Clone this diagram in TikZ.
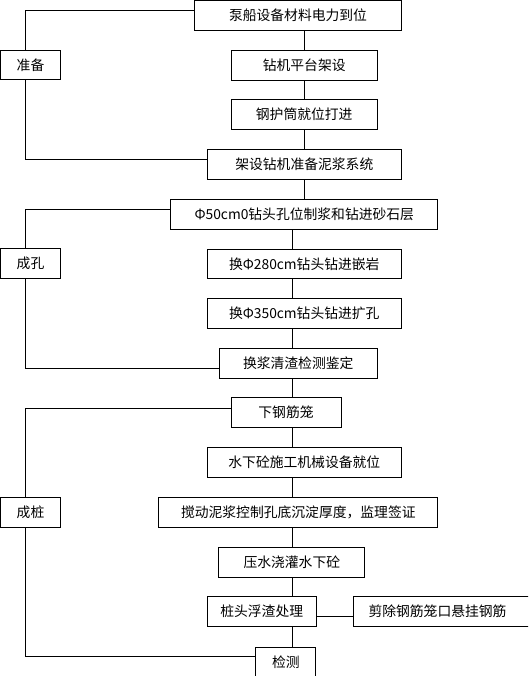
\documentclass[tikz,border=0pt]{standalone}
\usepackage{fontspec}
\newfontfamily\cjk{Noto Sans CJK SC}
\usetikzlibrary{positioning, calc}

\begin{document}
\begin{tikzpicture}[x=1pt, y=-1pt, line width=1pt,
    box/.style={draw, inner sep=0pt, minimum height=29.6pt, font=\cjk\fontsize{13.8}{16}\selectfont},
    tag/.style={box, minimum width=60pt}]
    \useasboundingbox (0,0) rectangle (528,676);
    \clip (0,0) rectangle (528,676);

    % Stage labels
    \node[tag] (prep) at (30.5,65.2) {准备};
    \node[tag] (hole) at (30.5,263.7) {成孔};
    \node[tag] (pile) at (30.5,512.2) {成桩};

    % Preparation
    \node[box, minimum width=206.6pt] (pump) at (298,15.5) {泵船设备材料电力到位};
    \node[box, minimum width=145.7pt] (platform) at (304.2,65.3) {钻机平台架设};
    \node[box, minimum width=145.7pt] (casing) at (304.2,114.3) {钢护筒就位打进};
    \node[box, minimum width=194pt] (rig) at (304.3,164.5) {架设钻机准备泥浆系统};

    % Boring
    \node[box, minimum width=267.3pt] (drillA) at (304.3,214.3) {Φ50cm0钻头孔位制浆和钻进砂石层};
    \node[box, minimum width=194pt] (drillB) at (304.3,263.8) {换Φ280cm钻头钻进嵌岩};
    \node[box, minimum width=194pt] (drillC) at (304.3,313.3) {换Φ350cm钻头钻进扩孔};
    \node[box, minimum width=158.3pt] (clean) at (298.2,363.3) {换浆清渣检测鉴定};

    % Piling
    \node[box, minimum width=110pt] (cage) at (286,412.7) {下钢筋笼};
    \node[box, minimum width=194pt] (equip) at (304.3,462.3) {水下砼施工机械设备就位};
    \node[box, minimum width=279.3pt] (stir) at (298.3,512.2) {搅动泥浆控制孔底沉淀厚度，监理签证};
    \node[box, minimum width=145.7pt] (pour) at (291.8,562.2) {压水浇灌水下砼};
    \node[box, minimum width=108.7pt] (head) at (261.7,611.5) {桩头浮渣处理};
    \node[box, anchor=west, inner xsep=15.3pt, text width=160pt, align=left] (cut) at (352.7,611.5) {剪除钢筋笼口悬挂钢筋};
    \node[box, minimum width=60.3pt] (test) at (285.8,662) {检测};

    % Main chain
    \coordinate (upper) at (304.3,0);
    \coordinate (lower) at (292.3,0);
    \coordinate (rail) at (25,0);
    \foreach \a/\b in {pump/platform, platform/casing, casing/rig, rig/drillA}
        \draw (\a.south -| upper) -- (\b.north -| upper);
    \foreach \a/\b in {drillA/drillB, drillB/drillC, drillC/clean, clean/cage, cage/equip, equip/stir, stir/pour, pour/head, head/test}
        \draw (\a.south -| lower) -- (\b.north -| lower);

    % Brackets to the stage labels
    \draw ([yshift=5.2pt]pump.west) -| (rail |- prep.north);
    \draw (prep.south -| rail) |- ([yshift=5.2pt]rig.west);
    \draw ([yshift=5pt]drillA.west) -| (rail |- hole.north);
    \draw (hole.south -| rail) |- ([yshift=-5pt]clean.west);
    \draw ([yshift=4.4pt]cage.west) -| (rail |- pile.north);
    \draw (pile.south -| rail) |- ([yshift=5.7pt]test.west);
    \draw ([yshift=-4.8pt]head.east) -- ([yshift=-4.8pt]head.east -| cut.west);
\end{tikzpicture}
\end{document}
